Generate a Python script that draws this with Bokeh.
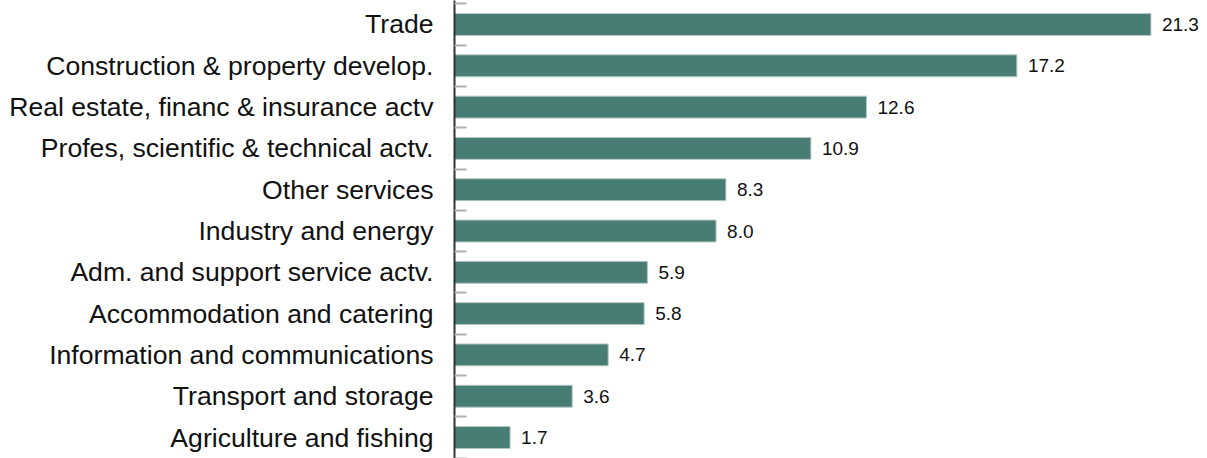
from bokeh.plotting import figure
from bokeh.models import Range1d, FixedTicker, ColumnDataSource
from bokeh.core.properties import value
from bokeh.embed import file_html
from bokeh.resources import INLINE

categories = [
    "Trade",
    "Construction & property develop.",
    "Real estate, financ & insurance actv",
    "Profes, scientific & technical actv.",
    "Other services",
    "Industry and energy",
    "Adm. and support service actv.",
    "Accommodation and catering",
    "Information and communications",
    "Transport and storage",
    "Agriculture and fishing",
]
values = [21.3, 17.2, 12.6, 10.9, 8.3, 8.0, 5.9, 5.8, 4.7, 3.6, 1.7]
value_labels = ["%.1f" % v for v in values]

pos = [i + 0.5 for i in range(len(categories))]
src = ColumnDataSource(dict(y=pos, v=values, lab=value_labels))

p = figure(width=1207, height=458, output_backend="svg", toolbar_location=None,
           x_range=Range1d(0, 23.03), y_range=Range1d(11.008, -0.081),
           min_border_left=454, min_border_right=0, min_border_top=0, min_border_bottom=0)
p.outline_line_color = None
p.xgrid.visible = False
p.ygrid.visible = False
p.xaxis.visible = False

p.hbar(y="y", right="v", left=0, height=0.53, source=src,
       fill_color="#477d72", line_color="#b5c7c3", line_width=1)
p.text(x="v", y="y", text="lab", source=src, x_offset=11, text_baseline="middle",
       text_align="left", text_font=value("Liberation Sans"), text_font_size="19px",
       text_color="#111111")

ya = p.yaxis[0]
ya.ticker = FixedTicker(ticks=pos, minor_ticks=list(range(0, len(categories) + 1)))
ya.major_label_overrides = {p_: c for p_, c in zip(pos, categories)}
ya.major_tick_in = 0
ya.major_tick_out = 0
ya.minor_tick_in = 12
ya.minor_tick_out = 0
ya.minor_tick_line_color = "#b0b0b0"
ya.minor_tick_line_width = 2
ya.axis_line_color = "#333333"
ya.axis_line_width = 2
ya.major_label_standoff = 21
ya.major_label_text_font = "Liberation Sans"
ya.major_label_text_font_size = "26.6px"
ya.major_label_text_color = "#111111"

open("out.html", "w").write(file_html(p, INLINE))
